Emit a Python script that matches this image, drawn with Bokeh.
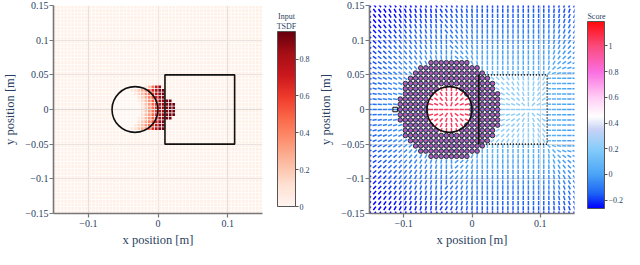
import numpy as np
from bokeh.plotting import figure
from bokeh.models import ColumnDataSource, LinearColorMapper, ColorBar, FixedTicker, Label
from bokeh.layouts import row
from bokeh.embed import file_html
from bokeh.resources import INLINE
from bokeh.palettes import Reds256

# ---------------- data ----------------
x_ticks = [-0.1, 0.0, 0.1]
x_tick_labels = ["\u22120.1", "0", "0.1"]
y_ticks = [-0.15, -0.1, -0.05, 0.0, 0.05, 0.1, 0.15]
y_tick_labels = ["\u22120.15", "\u22120.1", "\u22120.05", "0", "0.05", "0.1", "0.15"]

circle_center_x = -0.033
circle_center_y = 0.0
circle_radius = 0.033
box_left, box_right = 0.01, 0.11
box_bottom, box_top = -0.05, 0.05

tsdf_title = ["Input", "TSDF"]
tsdf_low, tsdf_high = 0.0, 0.95
tsdf_ticks = [0, 0.2, 0.4, 0.6, 0.8]
tsdf_tick_labels = ["0", "0.2", "0.4", "0.6", "0.8"]
tsdf_cell = 0.005
tsdf_background = 0.03
tsdf_inside = 0.0
patch_x = [-0.0375, -0.0325, -0.0275, -0.0225, -0.0175, -0.0125, -0.0075,
           -0.0025, 0.0025, 0.0075, 0.0125, 0.0175, 0.0225]
patch_y = [0.0325, 0.0275, 0.0225, 0.0175, 0.0125, 0.0075, 0.0025,
           -0.0025, -0.0075, -0.0125, -0.0175, -0.0225, -0.0275]
N = None
tsdf_patch = [
    [N,    N,    N,    N,    0.10, 0.22, 0.45, 0.70, 0.85, N,    N,    N,    N],
    [0.08, 0.12, 0.20, 0.28, 0.38, 0.50, 0.65, 0.80, 0.90, 0.93, N,    N,    N],
    [0.00, 0.08, 0.15, 0.24, 0.34, 0.46, 0.60, 0.75, 0.88, 0.92, N,    N,    N],
    [0.00, 0.00, 0.10, 0.18, 0.28, 0.40, 0.55, 0.70, 0.85, 0.90, N,    N,    N],
    [0.00, 0.00, 0.06, 0.14, 0.24, 0.36, 0.50, 0.66, 0.82, 0.88, 0.92, 0.93, N],
    [0.00, 0.00, 0.00, 0.12, 0.22, 0.34, 0.48, 0.64, 0.80, 0.86, 0.92, 0.94, 0.93],
    [0.00, 0.00, 0.00, 0.10, 0.20, 0.32, 0.46, 0.62, 0.79, 0.85, 0.90, 0.94, 0.92],
    [0.00, 0.00, 0.00, 0.10, 0.20, 0.32, 0.46, 0.62, 0.79, 0.85, 0.90, 0.94, 0.92],
    [0.00, 0.00, 0.00, 0.12, 0.22, 0.34, 0.48, 0.64, 0.80, 0.86, 0.92, 0.94, 0.93],
    [0.00, 0.00, 0.06, 0.14, 0.24, 0.36, 0.50, 0.66, 0.82, 0.88, 0.92, 0.93, N],
    [0.00, 0.00, 0.10, 0.18, 0.28, 0.40, 0.55, 0.70, 0.85, 0.90, N,    N,    N],
    [0.00, 0.08, 0.15, 0.24, 0.34, 0.46, 0.60, 0.75, 0.88, 0.92, N,    N,    N],
    [0.08, 0.12, 0.20, 0.28, 0.38, 0.50, 0.65, 0.80, 0.90, 0.93, N,    N,    N],
]

score_title = ["Score"]
score_low, score_high = -0.265, 1.19
score_ticks = [-0.2, 0, 0.2, 0.4, 0.6, 0.8, 1]
score_tick_labels = ["\u22120.2", "0", "0.2", "0.4", "0.6", "0.8", "1"]
score_anchor_values = [-0.265, -0.15, 0.0, 0.2, 0.35, 0.45, 0.6, 0.8, 1.0, 1.19]
score_anchor_colors = [(0, 0, 255), (30, 100, 245), (75, 165, 245), (135, 205, 250),
                       (200, 210, 245), (255, 255, 255), (255, 205, 245),
                       (250, 110, 225), (250, 75, 125), (255, 10, 10)]
field_step = 0.0075
ring_outer_radius = 0.075
box_sink_x, box_sink_y = 0.083, 0.0
square_marker_x = [-0.1125]
square_marker_y = [0.0]
score_inside = 1.05
score_ring = 1.0
score_box = 0.22

FONT = "Liberation Serif"
TXT = "#2a3f5f"
AX = "#777777"
H = 249


def make_fig(width, min_left, min_right):
    p = figure(width=width, height=H, x_range=(-0.15, 0.15), y_range=(-0.15, 0.15),
               output_backend="svg", toolbar_location=None,
               min_border_left=min_left, min_border_right=min_right,
               min_border_top=5, min_border_bottom=10)
    p.outline_line_color = None
    p.xaxis.ticker = FixedTicker(ticks=x_ticks)
    p.yaxis.ticker = FixedTicker(ticks=y_ticks)
    p.xaxis.major_label_overrides = dict(zip(x_ticks, x_tick_labels))
    p.yaxis.major_label_overrides = dict(zip(y_ticks, y_tick_labels))
    p.xgrid.ticker = FixedTicker(ticks=x_ticks)
    p.ygrid.ticker = FixedTicker(ticks=y_ticks)
    p.grid.grid_line_color = "#dcdcdc"
    p.grid.grid_line_width = 1
    for ax in (p.xaxis, p.yaxis):
        ax.axis_line_color = AX
        ax.axis_line_width = 1.6
        ax.major_tick_line_color = AX
        ax.major_tick_line_width = 1.2
        ax.major_tick_out = 4
        ax.major_tick_in = 0
        ax.minor_tick_line_color = None
        ax.major_label_text_font = FONT
        ax.major_label_text_font_size = "10px"
        ax.major_label_text_color = TXT
        ax.axis_label_text_font = FONT
        ax.axis_label_text_font_size = "12.5px"
        ax.axis_label_text_font_style = "normal"
        ax.axis_label_text_color = TXT
    p.xaxis.axis_label = "x position [m]"
    p.yaxis.axis_label = "y position [m]"
    p.xaxis.major_label_standoff = 2
    p.yaxis.major_label_standoff = 1
    p.xaxis.axis_label_standoff = 3
    p.yaxis.axis_label_standoff = 5
    return p


def make_cb_fig(width, mapper, ticks, labels, titles, bar_x, bar_bottom, bar_w, bar_h,
                title_x, title_y0):
    # frame of this figure is aligned by the row with the neighbouring plot frame
    c = figure(width=width, height=H, x_range=(0, 1), y_range=(0, 1),
               output_backend="svg", toolbar_location=None,
               min_border_left=0, min_border_right=0, min_border_top=0, min_border_bottom=0)
    c.axis.visible = False
    c.grid.visible = False
    c.outline_line_color = None
    cb = ColorBar(color_mapper=mapper, ticker=FixedTicker(ticks=ticks),
                  major_label_overrides=dict(zip(ticks, labels)),
                  width=bar_w, height=bar_h, location=(bar_x, bar_bottom),
                  margin=0, padding=0, title=None,
                  bar_line_color="#555555", bar_line_width=1,
                  major_tick_in=0, major_tick_out=3, major_tick_line_color="#555555",
                  minor_tick_line_color=None, label_standoff=1,
                  major_label_text_font=FONT, major_label_text_font_size="8px",
                  major_label_text_color=TXT, background_fill_color=None,
                  border_line_color=None)
    c.add_layout(cb)
    for k, t in enumerate(titles):
        c.add_layout(Label(x=title_x, y=title_y0 - 10.5 * k, x_units="screen", y_units="screen",
                           text=t, text_font=FONT, text_font_size="8px", text_color=TXT,
                           text_align="center", text_baseline="middle"))
    return c


# ---------------- left: input TSDF heatmap ----------------
patch = {}
for j, yy in enumerate(patch_y):
    for i, xx in enumerate(patch_x):
        if tsdf_patch[j][i] is not None:
            patch[(round(xx / tsdf_cell * 2), round(yy / tsdf_cell * 2))] = tsdf_patch[j][i]

n_cells = int(round(0.3 / tsdf_cell))
cx, cy, cv = [], [], []
for i in range(n_cells):
    xx = -0.15 + tsdf_cell * (i + 0.5)
    for j in range(n_cells):
        yy = -0.15 + tsdf_cell * (j + 0.5)
        key = (round(xx / tsdf_cell * 2), round(yy / tsdf_cell * 2))
        if key in patch:
            v = patch[key]
        elif np.hypot(xx - circle_center_x, yy - circle_center_y) < circle_radius:
            v = tsdf_inside
        else:
            v = tsdf_background
        cx.append(xx); cy.append(yy); cv.append(v)

reds = list(reversed(Reds256))
tsdf_mapper = LinearColorMapper(palette=reds, low=tsdf_low, high=tsdf_high)

p1 = make_fig(270, 50, 8)
src1 = ColumnDataSource(dict(x=cx, y=cy, v=cv))
p1.rect(x="x", y="y", width=tsdf_cell * 0.78, height=tsdf_cell * 0.78, source=src1,
        fill_color={"field": "v", "transform": tsdf_mapper}, line_color=None)
p1.quad(left=[box_left], right=[box_right], bottom=[box_bottom], top=[box_top],
        fill_color=None, line_color="#111111", line_width=1.6)
p1.ellipse(x=[circle_center_x], y=[circle_center_y], width=[2 * circle_radius],
           height=[2 * circle_radius], fill_color=None, line_color="#111111", line_width=1.6)
c1 = make_cb_fig(46, tsdf_mapper, tsdf_ticks, tsdf_tick_labels, tsdf_title,
                 7, 7, 18, 175, 16, 197.5)

# ---------------- right: score field ----------------
vals = np.array(score_anchor_values)
cols = np.array(score_anchor_colors, dtype=float)
score_palette = []
for t in np.linspace(score_low, score_high, 256):
    rgb = [int(round(np.interp(t, vals, cols[:, k]))) for k in range(3)]
    score_palette.append("#%02x%02x%02x" % tuple(rgb))
score_mapper = LinearColorMapper(palette=score_palette, low=score_low, high=score_high)

n_field = int(round(0.3 / field_step)) + 1
gx, gy, gs, ux, uy = [], [], [], [], []
rx, ry, rux, ruy = [], [], [], []
for i in range(n_field):
    xx = -0.15 + field_step * i
    for j in range(n_field):
        yy = -0.15 + field_step * j
        dxc, dyc = xx - circle_center_x, yy - circle_center_y
        dc = np.hypot(dxc, dyc)
        if dc < 1e-9:
            dxc, dyc, dc = 1.0, 0.0, 1.0
        inside_box = box_left <= xx <= box_right and box_bottom <= yy <= box_top
        if dc < circle_radius:
            u, v, s = dxc / dc, dyc / dc, score_inside
        elif dc <= ring_outer_radius:
            rx.append(xx); ry.append(yy)
            rux.append(-dxc / dc); ruy.append(-dyc / dc)
            continue
        elif inside_box:
            tx, ty = box_sink_x - xx, box_sink_y - yy
            tn = np.hypot(tx, ty) or 1.0
            u, v, s = tx / tn, ty / tn, score_box
        else:
            d_circ = dc - circle_radius
            qx = min(max(xx, box_left), box_right)
            qy = min(max(yy, box_bottom), box_top)
            d_box = np.hypot(qx - xx, qy - yy)
            if d_circ < d_box:
                u, v, d = -dxc / dc, -dyc / dc, d_circ
            else:
                u, v, d = (qx - xx) / d_box, (qy - yy) / d_box, d_box
            s = float(np.clip(0.08 - 2.6 * d, score_low, 0.3))
        gx.append(xx); gy.append(yy); gs.append(s); ux.append(u); uy.append(v)

L = 0.0062
gx = np.array(gx); gy = np.array(gy); ux = np.array(ux); uy = np.array(uy)
src2 = ColumnDataSource(dict(x0=gx - ux * L / 2, y0=gy - uy * L / 2,
                             x1=gx + ux * L / 2, y1=gy + uy * L / 2, s=gs))

p2 = make_fig(262, 52, 4)
p2.segment(x0="x0", y0="y0", x1="x1", y1="y1", source=src2, line_width=1.5,
           line_color={"field": "s", "transform": score_mapper})
p2.quad(left=[box_left], right=[box_right], bottom=[box_bottom], top=[box_top],
        fill_color=None, line_color="#111111", line_width=1.6, line_dash="1 2")
rx = np.array(rx); ry = np.array(ry); rux = np.array(rux); ruy = np.array(ruy)
p2.scatter(x=rx, y=ry, marker="circle", size=4.6, fill_color="#7a68d8",
           line_color="#222222", line_width=0.9)
Lr = 0.0028
src3 = ColumnDataSource(dict(x0=rx - rux * Lr / 2, y0=ry - ruy * Lr / 2,
                             x1=rx + rux * Lr / 2, y1=ry + ruy * Lr / 2,
                             s=[score_ring] * len(rx)))
p2.segment(x0="x0", y0="y0", x1="x1", y1="y1", source=src3, line_width=1.2,
           line_color={"field": "s", "transform": score_mapper})
p2.segment(x0=[box_left], y0=[box_bottom], x1=[box_left], y1=[box_top],
           line_color="#111111", line_width=1.6)
p2.scatter(x=square_marker_x, y=square_marker_y, marker="square", size=4.5,
           fill_color=None, line_color="#111111", line_width=1)
p2.ellipse(x=[circle_center_x], y=[circle_center_y], width=[2 * circle_radius],
           height=[2 * circle_radius], fill_color=None, line_color="#111111", line_width=1.6)
c2 = make_cb_fig(46, score_mapper, score_ticks, score_tick_labels, score_title,
                 9, 5, 17, 187, 18, 197.5)

layout = row(p1, c1, p2, c2)
open("out.html", "w").write(file_html(layout, INLINE))
